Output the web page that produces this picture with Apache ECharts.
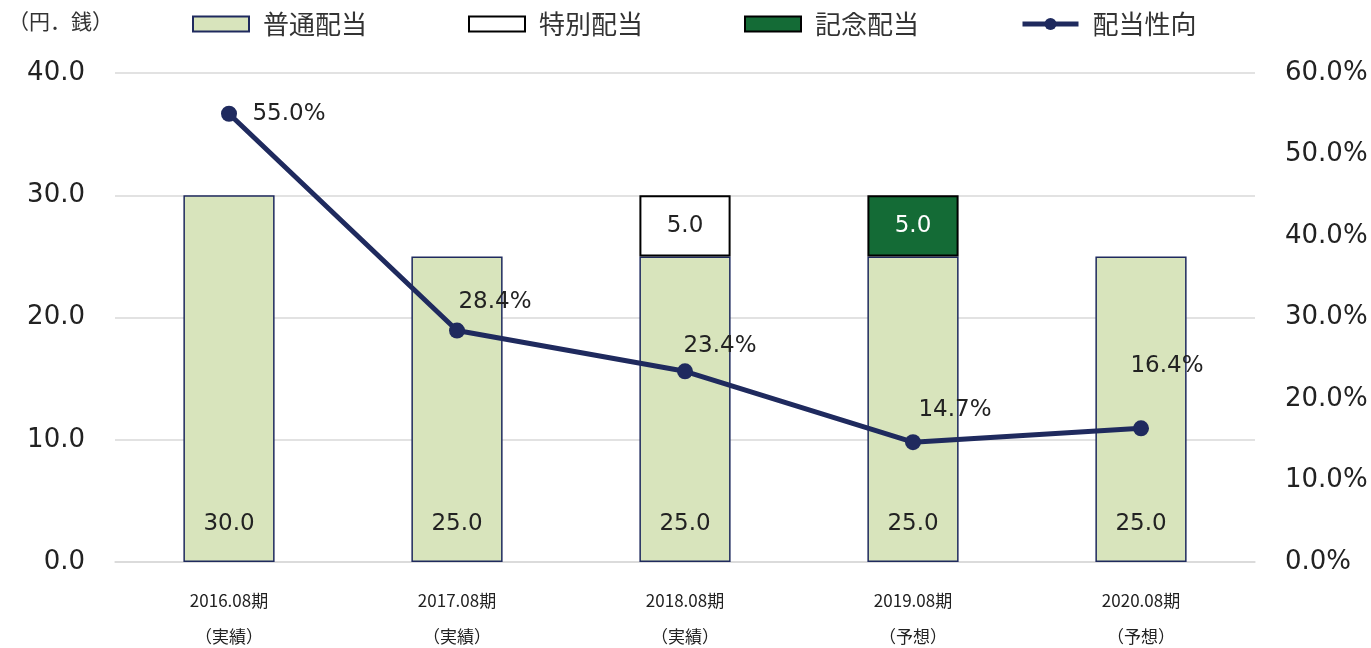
<!DOCTYPE html>
<html>
<head>
<meta charset="utf-8">
<script src="https://cdn.jsdelivr.net/npm/echarts@6/dist/echarts.min.js"></script>
<style>
  html, body { margin: 0; padding: 0; background: #fff; }
  #chart { width: 1371px; height: 648px; }
</style>
</head>
<body>
<div id="chart"></div>
<script>
const periods = ['2016.08期', '2017.08期', '2018.08期', '2019.08期', '2020.08期'];
const periodNotes = ['（実績）', '（実績）', '（実績）', '（予想）', '（予想）'];
const ordinary = [30.0, 25.0, 25.0, 25.0, 25.0];
const special = [null, null, 5.0, null, null];
const memorial = [null, null, null, 5.0, null];
const payoutRatio = [55.0, 28.4, 23.4, 14.7, 16.4];
// where each ratio label sits relative to its point
const ratioLabelOffsets = [[60, 0], [38, -29], [35, -25], [42, -32], [26, -62]];

const numFont = 'DejaVu Sans, Verdana, sans-serif';
const jpFont = 'Noto Sans CJK JP, sans-serif';

const chart = echarts.init(document.getElementById('chart'));

chart.setOption({
  animation: false,
  textStyle: { fontFamily: numFont },
  graphic: [{
    type: 'text',
    left: 8,
    top: 11,
    style: { text: '（円．銭）', font: '21px Noto Sans CJK JP', fill: '#333' }
  }],
  legend: {
    top: 6,
    left: 187,
    itemWidth: 56,
    itemHeight: 15,
    itemGap: 101,
    textStyle: { fontFamily: jpFont, fontSize: 26, color: '#333', padding: [0, 0, 0, 9] },
    data: [
      { name: '普通配当', icon: 'rect' },
      { name: '特別配当', icon: 'rect' },
      { name: '記念配当', icon: 'rect' },
      { name: '配当性向', lineStyle: { width: 5 } }
    ]
  },
  grid: { left: 115, right: 116, top: 73, bottom: 86, outerBoundsMode: 'none', containLabel: false },
  xAxis: {
    type: 'category',
    data: periods,
    axisLine: { lineStyle: { color: '#d9d9d9', width: 1.5 } },
    axisTick: { show: false },
    axisLabel: {
      margin: 21,
      fontFamily: jpFont,
      fontSize: 17,
      color: '#222',
      lineHeight: 36,
      formatter: (v, i) => v + '\n' + periodNotes[i]
    }
  },
  yAxis: [
    {
      type: 'value',
      min: 0, max: 40, interval: 10,
      axisLine: { show: false },
      axisTick: { show: false },
      splitLine: { lineStyle: { color: '#d9d9d9', width: 1.5 } },
      axisLabel: {
        margin: 30,
        fontSize: 26,
        color: '#222',
        formatter: v => v.toFixed(1)
      }
    },
    {
      type: 'value',
      min: 0, max: 60, interval: 10,
      axisLine: { show: false },
      axisTick: { show: false },
      splitLine: { show: false },
      axisLabel: {
        margin: 30,
        fontSize: 26,
        color: '#222',
        formatter: v => v.toFixed(1) + '%'
      }
    }
  ],
  series: [
    {
      name: '普通配当',
      type: 'bar',
      stack: 'div',
      barWidth: '40%',
      data: ordinary,
      itemStyle: { color: '#d8e4bc', borderColor: '#1f2a5e', borderWidth: 1.5 },
      label: {
        show: true,
        position: 'insideBottom',
        distance: 26,
        fontSize: 23,
        color: '#222',
        formatter: p => p.value.toFixed(1)
      }
    },
    {
      name: '特別配当',
      type: 'bar',
      stack: 'div',
      data: special,
      itemStyle: { color: '#ffffff', borderColor: '#000', borderWidth: 2 },
      label: {
        show: true,
        position: 'inside',
        fontSize: 23,
        color: '#222',
        formatter: p => p.value.toFixed(1)
      }
    },
    {
      name: '記念配当',
      type: 'bar',
      stack: 'div',
      data: memorial,
      itemStyle: { color: '#146b36', borderColor: '#000', borderWidth: 2 },
      label: {
        show: true,
        position: 'inside',
        fontSize: 23,
        color: '#fff',
        formatter: p => p.value.toFixed(1)
      }
    },
    {
      name: '配当性向',
      type: 'line',
      yAxisIndex: 1,
      symbol: 'circle',
      symbolSize: 16,
      z: 5,
      data: payoutRatio.map((v, i) => ({
        value: v,
        label: { offset: ratioLabelOffsets[i] }
      })),
      lineStyle: { color: '#1f2a5e', width: 5 },
      itemStyle: { color: '#1f2a5e' },
      label: {
        show: true,
        position: 'inside',
        fontSize: 23,
        color: '#222',
        formatter: p => p.value.toFixed(1) + '%'
      }
    }
  ]
});
</script>
</body>
</html>
